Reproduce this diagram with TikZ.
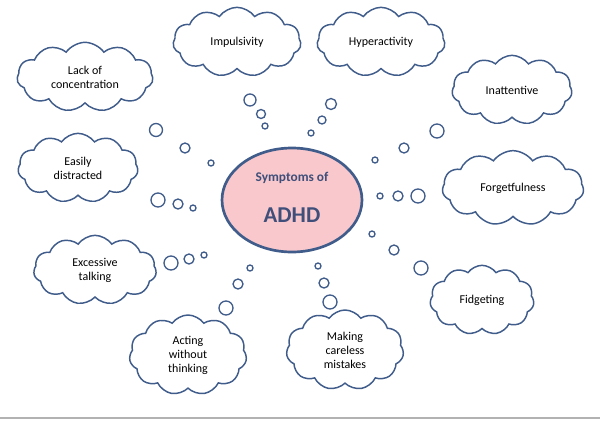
\documentclass[tikz,border=0pt]{standalone}
\usepackage{fontspec}
\setmainfont{Carlito}
\usetikzlibrary{shapes.symbols,shapes.geometric}
\definecolor{cloudblue}{HTML}{3F5C8A}
\definecolor{textblue}{HTML}{3F4F7A}
\definecolor{ovalpink}{HTML}{F8C8CC}
\tikzset{
  thought/.style={cloud, cloud puffs=11, cloud puff arc=110, aspect=1.8, draw=cloudblue, line width=1.1pt,
    fill=white, align=center, font=\fontsize{9}{10.5}\selectfont, inner sep=0pt},
  bub/.style={draw=cloudblue, line width=1pt, fill=white}
}
\begin{document}
\begin{tikzpicture}[x=0.75pt,y=-0.75pt]
	\useasboundingbox (0,0) rectangle (600,422);
	\draw[gray!60, line width=0.8pt] (0,418) -- (600,418);
	% centre
	\node (adhd) [ellipse, draw=cloudblue, line width=2pt, fill=ovalpink,
		minimum width=105pt, minimum height=78pt] at (292,200) {};
	\node[text=textblue, font=\bfseries\fontsize{10}{12}\selectfont] at (292,178) {Symptoms of};
	\node[text=textblue, font=\bfseries\fontsize{17}{20}\selectfont] at (292,215) {ADHD};
	% clouds
	\node (lack) [thought, minimum width=102pt, minimum height=52pt] at (85,77) {Lack of\\concentration};
	\node (imp) [thought, minimum width=96pt, minimum height=52pt] at (237,42) {Impulsivity};
	\node (hyp) [thought, minimum width=96pt, minimum height=52pt] at (381,42) {Hyperactivity};
	\node (inat) [thought, minimum width=90pt, minimum height=52pt] at (512,90) {Inattentive};
	\node (easy) [thought, minimum width=90pt, minimum height=52pt] at (78,168) {Easily\\distracted};
	\node (forg) [thought, minimum width=106pt, minimum height=56pt] at (513,188) {Forgetfulness};
	\node (talk) [thought, minimum width=92pt, minimum height=52pt] at (95,270) {Excessive\\talking};
	\node (fidg) [thought, minimum width=78pt, minimum height=52pt] at (482,300) {Fidgeting};
	\node (act) [thought, minimum width=88pt, minimum height=60pt] at (188,355) {Acting\\without\\thinking};
	\node (care) [thought, minimum width=88pt, minimum height=60pt] at (345,350) {Making\\careless\\mistakes};
	% bubbles
	\foreach \x/\y/\r in {156/130/6.5, 185/148/5, 211/163/3,
		250/100/6, 261/114/4.5, 265/126/3,
		331/104/5.5, 322/120/4, 311/133/3,
		437/131/7, 404/148/5, 375/160/3,
		158/200/7, 178/204/5, 193/208/3,
		380/196/3, 398/196/5, 418/196/7,
		171/263/7, 189/259/5, 204/255/3,
		372/234/3, 394/250/5, 421/268/7,
		250/268/3, 238/284/5, 226/308/7,
		318/266/3, 324/283/5, 330/302/7}
		\draw[bub] (\x,\y) circle [radius=\r*0.75pt];
\end{tikzpicture}
\end{document}
